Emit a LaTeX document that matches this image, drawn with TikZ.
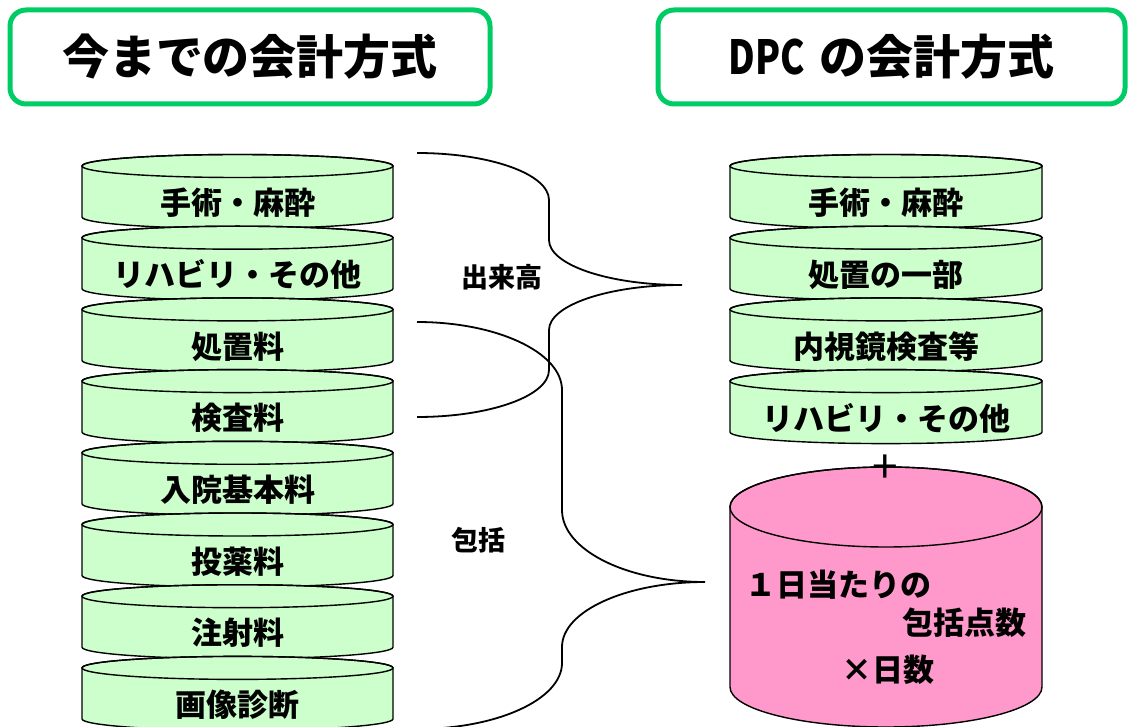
\documentclass[tikz,border=0pt]{standalone}
\usepackage{fontspec}
\setmainfont{Noto Sans CJK JP}
\usepackage{graphicx}
\definecolor{titlegreen}{RGB}{0,204,102}
\definecolor{cylgreen}{RGB}{204,255,204}
\definecolor{cylpink}{RGB}{255,153,204}
\newcommand\mydrum[6]{%
  \filldraw[fill=#6, cylline] (#1,-#3) -- (#1,-#4)
    arc[start angle=180,end angle=360,x radius={(#2-#1)/2},y radius=#5]
    -- (#2,-#3)
    arc[start angle=0,end angle=180,x radius={(#2-#1)/2},y radius=#5] -- cycle;
  \draw[cylline] ({(#1+#2)/2},-#3) ellipse[x radius={(#2-#1)/2}, y radius=#5];
}
\tikzset{
  cylline/.style={draw=black, line width=1.4pt},
  titlebox/.style={draw=titlegreen, line width=5pt, rounded corners=16pt, fill=white,
    minimum height=94pt, inner sep=0pt, font=\fontsize{47}{50}\selectfont\bfseries},
  cyltext/.style={inner sep=0pt, font=\fontsize{31}{34}\selectfont\bfseries},
  bracetext/.style={inner sep=0pt, font=\fontsize{27}{29}\selectfont\bfseries},
  brace/.style={draw=black, line width=1.8pt}
}
\begin{document}
\begin{tikzpicture}[x=1pt,y=1pt]
\useasboundingbox (0,0) rectangle (1128,-727);
\clip (0,0) rectangle (1128,-727);

% titles
\node[titlebox, minimum width=480pt] (t1) at (250,-57) {今までの会計方式};
\node[titlebox, minimum width=467pt] (t2) at (891.5,-57) {\scalebox{0.78}[1]{DPC}\hspace{0.3em}の会計方式};

% left stack
\foreach \lab [count=\i from 0] in {手術・麻酔,リハビリ・その他,処置料,検査料,入院基本料,投薬料,注射料,画像診断}{
  \pgfmathsetmacro\yt{166+71.7*\i}
  \pgfmathsetmacro\yb{\yt+51}
  \mydrum{82}{393}{\yt}{\yb}{11.5}{cylgreen}
  \node[cyltext] (L\i) at (237.5,-\yt-37) {\lab};
}

% right stack
\foreach \lab [count=\i from 0] in {手術・麻酔,処置の一部,内視鏡検査等,リハビリ・その他}{
  \pgfmathsetmacro\yt{166+71.7*\i}
  \pgfmathsetmacro\yb{\yt+51}
  \mydrum{730}{1042}{\yt}{\yb}{11.5}{cylgreen}
  \node[cyltext] (R\i) at (886,-\yt-37) {\lab};
}

% pink drum
\mydrum{730}{1042}{507}{687}{40}{cylpink}
\node[cyltext, anchor=west] (p1) at (745,-585) {１日当たりの};
\node[cyltext, anchor=east] (p2) at (1027,-623) {包括点数};
\node[cyltext] (p3) at (888,-670) {×日数};
\node[inner sep=0pt, font=\fontsize{46}{46}\selectfont] (plus) at (885,-469) {+};

% braces
\coordinate (ua) at (417,-153);
\coordinate (ub) at (417,-417);
\coordinate (utip) at (682,-285);
\draw[brace] (ua) arc[start angle=90,end angle=0,x radius=132,y radius=47]
  -- ++(0,-40) arc[start angle=180,end angle=270,x radius=133,y radius=45]
  arc[start angle=90,end angle=180,x radius=133,y radius=45]
  -- ++(0,-40) arc[start angle=0,end angle=-90,x radius=132,y radius=47];

\coordinate (la) at (417,-322);
\coordinate (ltip) at (705,-582);
\draw[brace] (la) arc[start angle=90,end angle=0,x radius=145,y radius=68]
  -- ++(0,-120) arc[start angle=180,end angle=270,x radius=143,y radius=72]
  arc[start angle=90,end angle=180,x radius=143,y radius=65]
  -- ++(0,-16) arc[start angle=0,end angle=-90,x radius=145,y radius=66];

\node[bracetext] (k1) at (502,-277) {出来高};
\node[bracetext] (k2) at (478,-540) {包括};
\end{tikzpicture}
\end{document}
